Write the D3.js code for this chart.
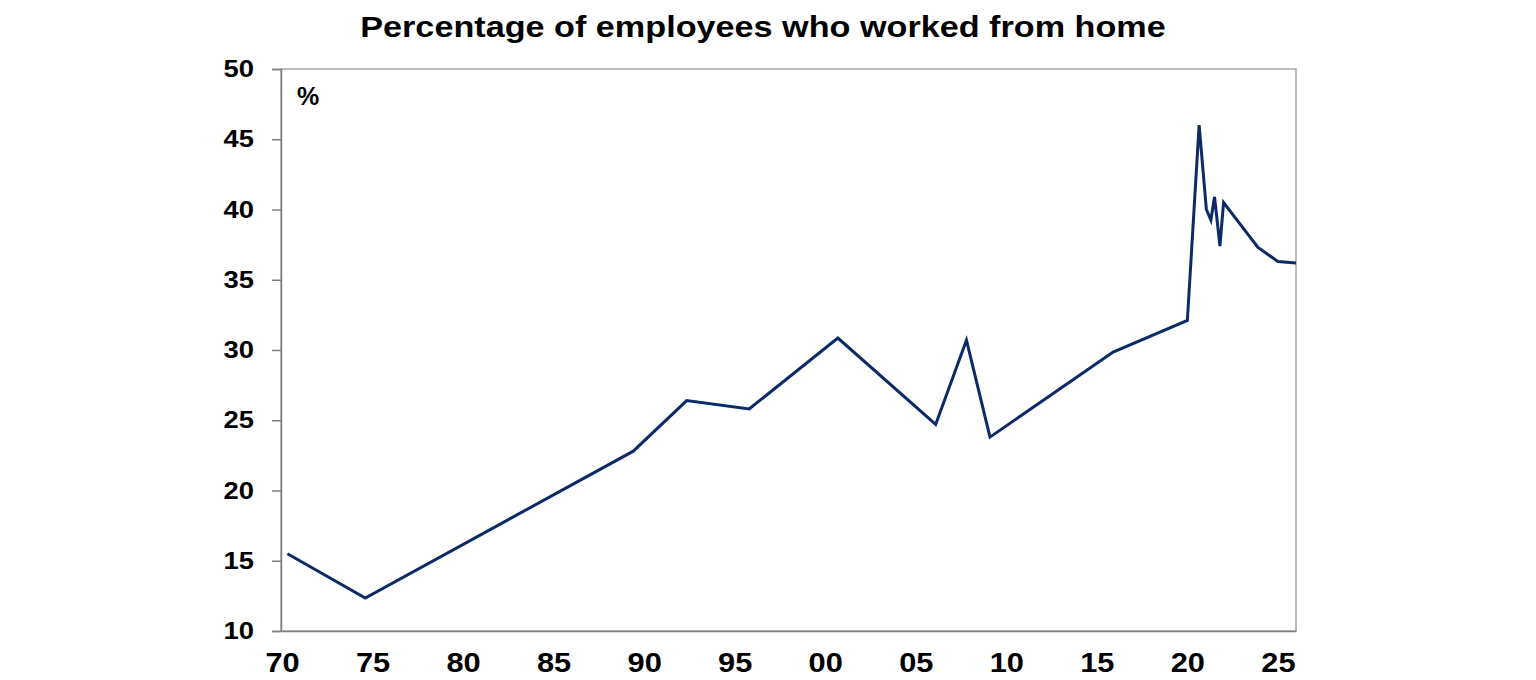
<!DOCTYPE html>
<html>
<head>
<meta charset="utf-8">
<script src="https://cdn.jsdelivr.net/npm/d3@7"></script>
<style>
  body { margin: 0; background: #fff; }
  text { font-family: "Liberation Sans", Arial, sans-serif; font-weight: bold; fill: #000; }
</style>
</head>
<body>
<div id="chart-area"></div>
<script>
// data (year as decimal, % of employees)
const years = [1970.3, 1974.6, 1989.4, 1992.35, 1995.8, 2000.7, 2006.1, 2007.8, 2009.1, 2015.9,
  2020.0, 2020.65, 2021.05, 2021.3, 2021.5, 2021.8, 2022.0, 2023.9, 2025.0, 2026.0];
const values = [15.5, 12.35, 22.8, 26.4, 25.8, 30.85, 24.7, 30.7, 23.8, 29.85,
  32.1, 46.0, 40.0, 39.25, 40.9, 37.4, 40.5, 37.3, 36.3, 36.2];
const xTicks = [1970, 1975, 1980, 1985, 1990, 1995, 2000, 2005, 2010, 2015, 2020, 2025];
const yTicks = [10, 15, 20, 25, 30, 35, 40, 45, 50];
const title = "Percentage of employees who worked from home";

const canvas_dims = { width: 1536, height: 680 };
const margins = { top: 69, right: 240, bottom: 49, left: 282 };
const content_dims = {
  width: canvas_dims.width - margins.left - margins.right,
  height: canvas_dims.height - margins.top - margins.bottom
};
// the reference text is a little wide
const stretch = 1.14;

const svg = d3
  .select("#chart-area")
  .append("svg")
  .attr("width", canvas_dims.width)
  .attr("height", canvas_dims.height);

svg
  .append("text")
  .attr("transform", `translate(763,37) scale(${stretch},1)`)
  .attr("text-anchor", "middle")
  .attr("font-size", "30px")
  .text(title);

const group = svg
  .append("g")
  .attr("transform", `translate(${margins.left},${margins.top})`);

const scales = {
  x: d3.scaleLinear().domain([1970, 2026]).range([0, content_dims.width]),
  y: d3.scaleLinear().domain([10, 50]).range([content_dims.height, 0])
};

// frame
group
  .append("rect")
  .attr("x", -1)
  .attr("y", 0)
  .attr("width", content_dims.width + 1)
  .attr("height", content_dims.height)
  .attr("fill", "none")
  .attr("stroke", "#a6a6a6")
  .attr("stroke-width", 1.5);

// axes
const yAxis = d3.axisLeft(scales.y).tickValues(yTicks).tickSize(9).tickPadding(18);
const yG = group.append("g").attr("class", "left axis").attr("transform", "translate(-1,0)").call(yAxis);
yG.select(".domain").attr("stroke", "#7f7f7f").attr("stroke-width", 1.5);
yG.selectAll(".tick line").attr("stroke", "#7f7f7f").attr("stroke-width", 1.5);
yG.selectAll(".tick text")
  .attr("font-size", "24px")
  .attr("fill", "#000")
  .attr("x", -27 / stretch)
  .attr("transform", `scale(${stretch},1)`);

const xAxis = d3
  .axisBottom(scales.x)
  .tickValues(xTicks)
  .tickSize(0)
  .tickPadding(22)
  .tickFormat(d => String(d % 100).padStart(2, "0"));
const xG = group
  .append("g")
  .attr("class", "bottom axis")
  .attr("transform", `translate(0,${content_dims.height})`)
  .call(xAxis);
xG.select(".domain").attr("stroke", "#7f7f7f").attr("stroke-width", 1.5);
xG.selectAll(".tick text")
  .attr("font-size", "27px")
  .attr("fill", "#000")
  .attr("transform", `scale(${stretch},1)`);

// unit label
group
  .append("text")
  .attr("x", 15)
  .attr("y", 36)
  .attr("font-size", "25px")
  .text("%");

// series
const line = d3
  .line()
  .x((d, i) => scales.x(years[i]))
  .y(d => scales.y(d));

group
  .append("path")
  .datum(values)
  .attr("fill", "none")
  .attr("stroke", "#0b2a66")
  .attr("stroke-width", 3)
  .attr("stroke-linejoin", "miter")
  .attr("d", line);
</script>
</body>
</html>
